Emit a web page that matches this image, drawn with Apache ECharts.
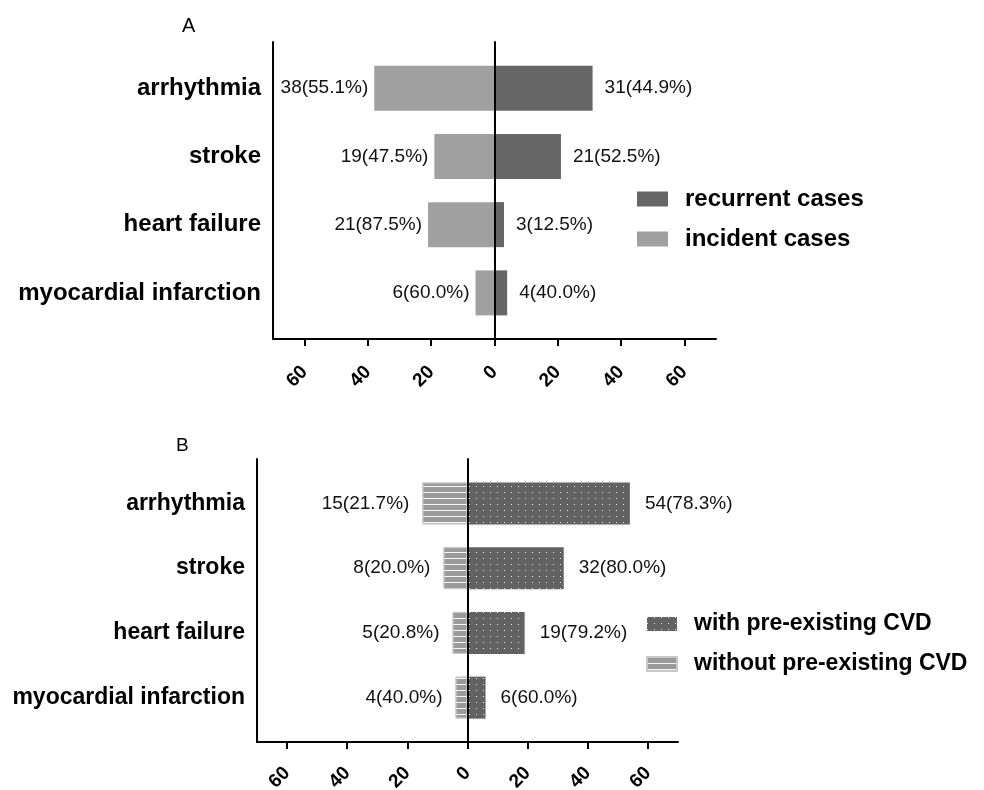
<!DOCTYPE html>
<html>
<head>
<meta charset="utf-8">
<script src="https://cdn.jsdelivr.net/npm/echarts@6/dist/echarts.min.js"></script>
<style>html,body{margin:0;padding:0;background:#fff}#c{width:984px;height:790px}</style>
</head>
<body>
<div id="c"></div>
<script>
const categories = ['arrhythmia', 'stroke', 'heart failure', 'myocardial infarction'];
// Panel A
const incidentCases = [38, 19, 21, 6];
const incidentPct = ['55.1', '47.5', '87.5', '60.0'];
const recurrentCases = [31, 21, 3, 4];
const recurrentPct = ['44.9', '52.5', '12.5', '40.0'];
// Panel B
const withoutCVD = [15, 8, 5, 4];
const withoutPct = ['21.7', '20.0', '20.8', '40.0'];
const withCVD = [54, 32, 19, 6];
const withPct = ['78.3', '80.0', '79.2', '60.0'];
// Axis ticks
const xTickValues = [-60, -40, -20, 0, 20, 40, 60];
const xTickLabels = ['60', '40', '20', '0', '20', '40', '60'];

const FONT = '"Liberation Sans", Arial, Helvetica, sans-serif';
const chart = echarts.init(document.getElementById('c'), null, {renderer: 'canvas'});

function hiddenX(gi) {
  return {type: 'value', gridIndex: gi, min: -70, max: 70, show: false};
}
function visibleX(gi, margin) {
  return {
    type: 'value', gridIndex: gi, min: -70, max: 70,
    axisLine: {show: true, onZero: false, lineStyle: {color: '#000', width: 2}},
    axisTick: {show: true, length: 7, lineStyle: {color: '#000', width: 2}, customValues: xTickValues},
    axisLabel: {
      show: true, rotate: 45, margin: margin, customValues: xTickValues,
      fontFamily: FONT, fontWeight: 'bold', fontSize: 19, color: '#000',
      formatter: v => xTickLabels[xTickValues.indexOf(v)]
    },
    splitLine: {show: false}
  };
}
function catY(gi, fs) {
  return {
    type: 'category', gridIndex: gi, data: categories, inverse: true,
    axisLine: {show: false},
    axisTick: {show: true, alignWithLabel: true, length: 9, lineStyle: {color: '#000', width: 2}},
    axisLabel: {margin: 12, fontFamily: FONT, fontWeight: 'bold', fontSize: fs, color: '#000'},
    splitLine: {show: false}
  };
}
function zeroY(gi) {
  return {
    type: 'value', gridIndex: gi, min: 0, max: 1, z: 5,
    axisLine: {show: true, onZero: true, lineStyle: {color: '#000', width: 2}},
    axisTick: {show: false}, axisLabel: {show: false}, splitLine: {show: false}
  };
}
function spineY(gi) {
  return {
    type: 'value', gridIndex: gi, min: 0, max: 1, position: 'left', z: 5,
    axisLine: {show: true, onZero: false, lineStyle: {color: '#000', width: 2}},
    axisTick: {show: false}, axisLabel: {show: false}, splitLine: {show: false}
  };
}
const labelStyle = {fontFamily: FONT, fontSize: 19, color: '#111'};

const dotDecal = {symbol: 'rect', symbolSize: 1, dashArrayX: [1, 6], dashArrayY: [1, 5], color: 'rgba(255,255,255,0.85)'};
const stripeDecal = {symbol: 'rect', symbolSize: 1, dashArrayX: [1, 0], dashArrayY: [1, 5], color: 'rgba(255,255,255,0.9)'};

function grid(left, width, top, height) {
  return {left: left, width: width, top: top, height: height, containLabel: false, outerBoundsMode: 'none'};
}

const option = {
  animation: false,
  backgroundColor: '#fff',
  title: [
    {text: 'A', left: 177, top: 11, textStyle: {fontFamily: FONT, fontSize: 20, fontWeight: 'normal', color: '#000'}},
    {text: 'B', left: 171, top: 431, textStyle: {fontFamily: FONT, fontSize: 19, fontWeight: 'normal', color: '#000'}}
  ],
  legend: [
    {
      data: ['recurrent cases', 'incident cases'], orient: 'vertical', left: 632, top: 182,
      icon: 'rect', itemWidth: 31, itemHeight: 15, itemGap: 16,
      textStyle: {fontFamily: FONT, fontSize: 24, fontWeight: 'bold', color: '#000', lineHeight: 24, padding: [0, 0, 0, 12]}
    },
    {
      data: ['with pre-existing CVD', 'without pre-existing CVD'], orient: 'vertical', left: 641, top: 607,
      icon: 'rect', itemWidth: 30, itemHeight: 14, itemGap: 16,
      textStyle: {fontFamily: FONT, fontSize: 23, fontWeight: 'bold', color: '#000', lineHeight: 24, padding: [0, 0, 0, 12]}
    }
  ],
  grid: [
    grid(273, 443, 54, 273),
    grid(273, 443, 42, 297),
    grid(257, 421, 471, 259),
    grid(257, 421, 459, 283)
  ],
  xAxis: [hiddenX(0), visibleX(1, 30), hiddenX(2), visibleX(3, 28)],
  yAxis: [catY(0, 24), zeroY(1), spineY(1), catY(2, 23), zeroY(3), spineY(3)],
  series: [
    {
      name: 'incident cases', type: 'bar', xAxisIndex: 0, yAxisIndex: 0, stack: 'a', barWidth: 45,
      data: incidentCases.map(v => -v),
      itemStyle: {color: '#a0a0a0'},
      label: {show: true, position: 'left', distance: 6, ...labelStyle,
        formatter: p => incidentCases[p.dataIndex] + '(' + incidentPct[p.dataIndex] + '%)'}
    },
    {
      name: 'recurrent cases', type: 'bar', xAxisIndex: 0, yAxisIndex: 0, stack: 'a', barWidth: 45,
      data: recurrentCases,
      itemStyle: {color: '#666666'},
      label: {show: true, position: 'right', distance: 12, ...labelStyle,
        formatter: p => recurrentCases[p.dataIndex] + '(' + recurrentPct[p.dataIndex] + '%)'}
    },
    {
      name: 'without pre-existing CVD', type: 'bar', xAxisIndex: 2, yAxisIndex: 3, stack: 'b', barWidth: 42,
      data: withoutCVD.map(v => -v),
      itemStyle: {color: '#9a9a9a', borderColor: '#c8c8c8', borderWidth: 1, decal: stripeDecal},
      label: {show: true, position: 'left', distance: 13, ...labelStyle,
        formatter: p => withoutCVD[p.dataIndex] + '(' + withoutPct[p.dataIndex] + '%)'}
    },
    {
      name: 'with pre-existing CVD', type: 'bar', xAxisIndex: 2, yAxisIndex: 3, stack: 'b', barWidth: 42,
      data: withCVD,
      itemStyle: {color: '#626262', decal: dotDecal},
      label: {show: true, position: 'right', distance: 15, ...labelStyle,
        formatter: p => withCVD[p.dataIndex] + '(' + withPct[p.dataIndex] + '%)'}
    }
  ]
};
chart.setOption(option);
</script>
</body>
</html>
